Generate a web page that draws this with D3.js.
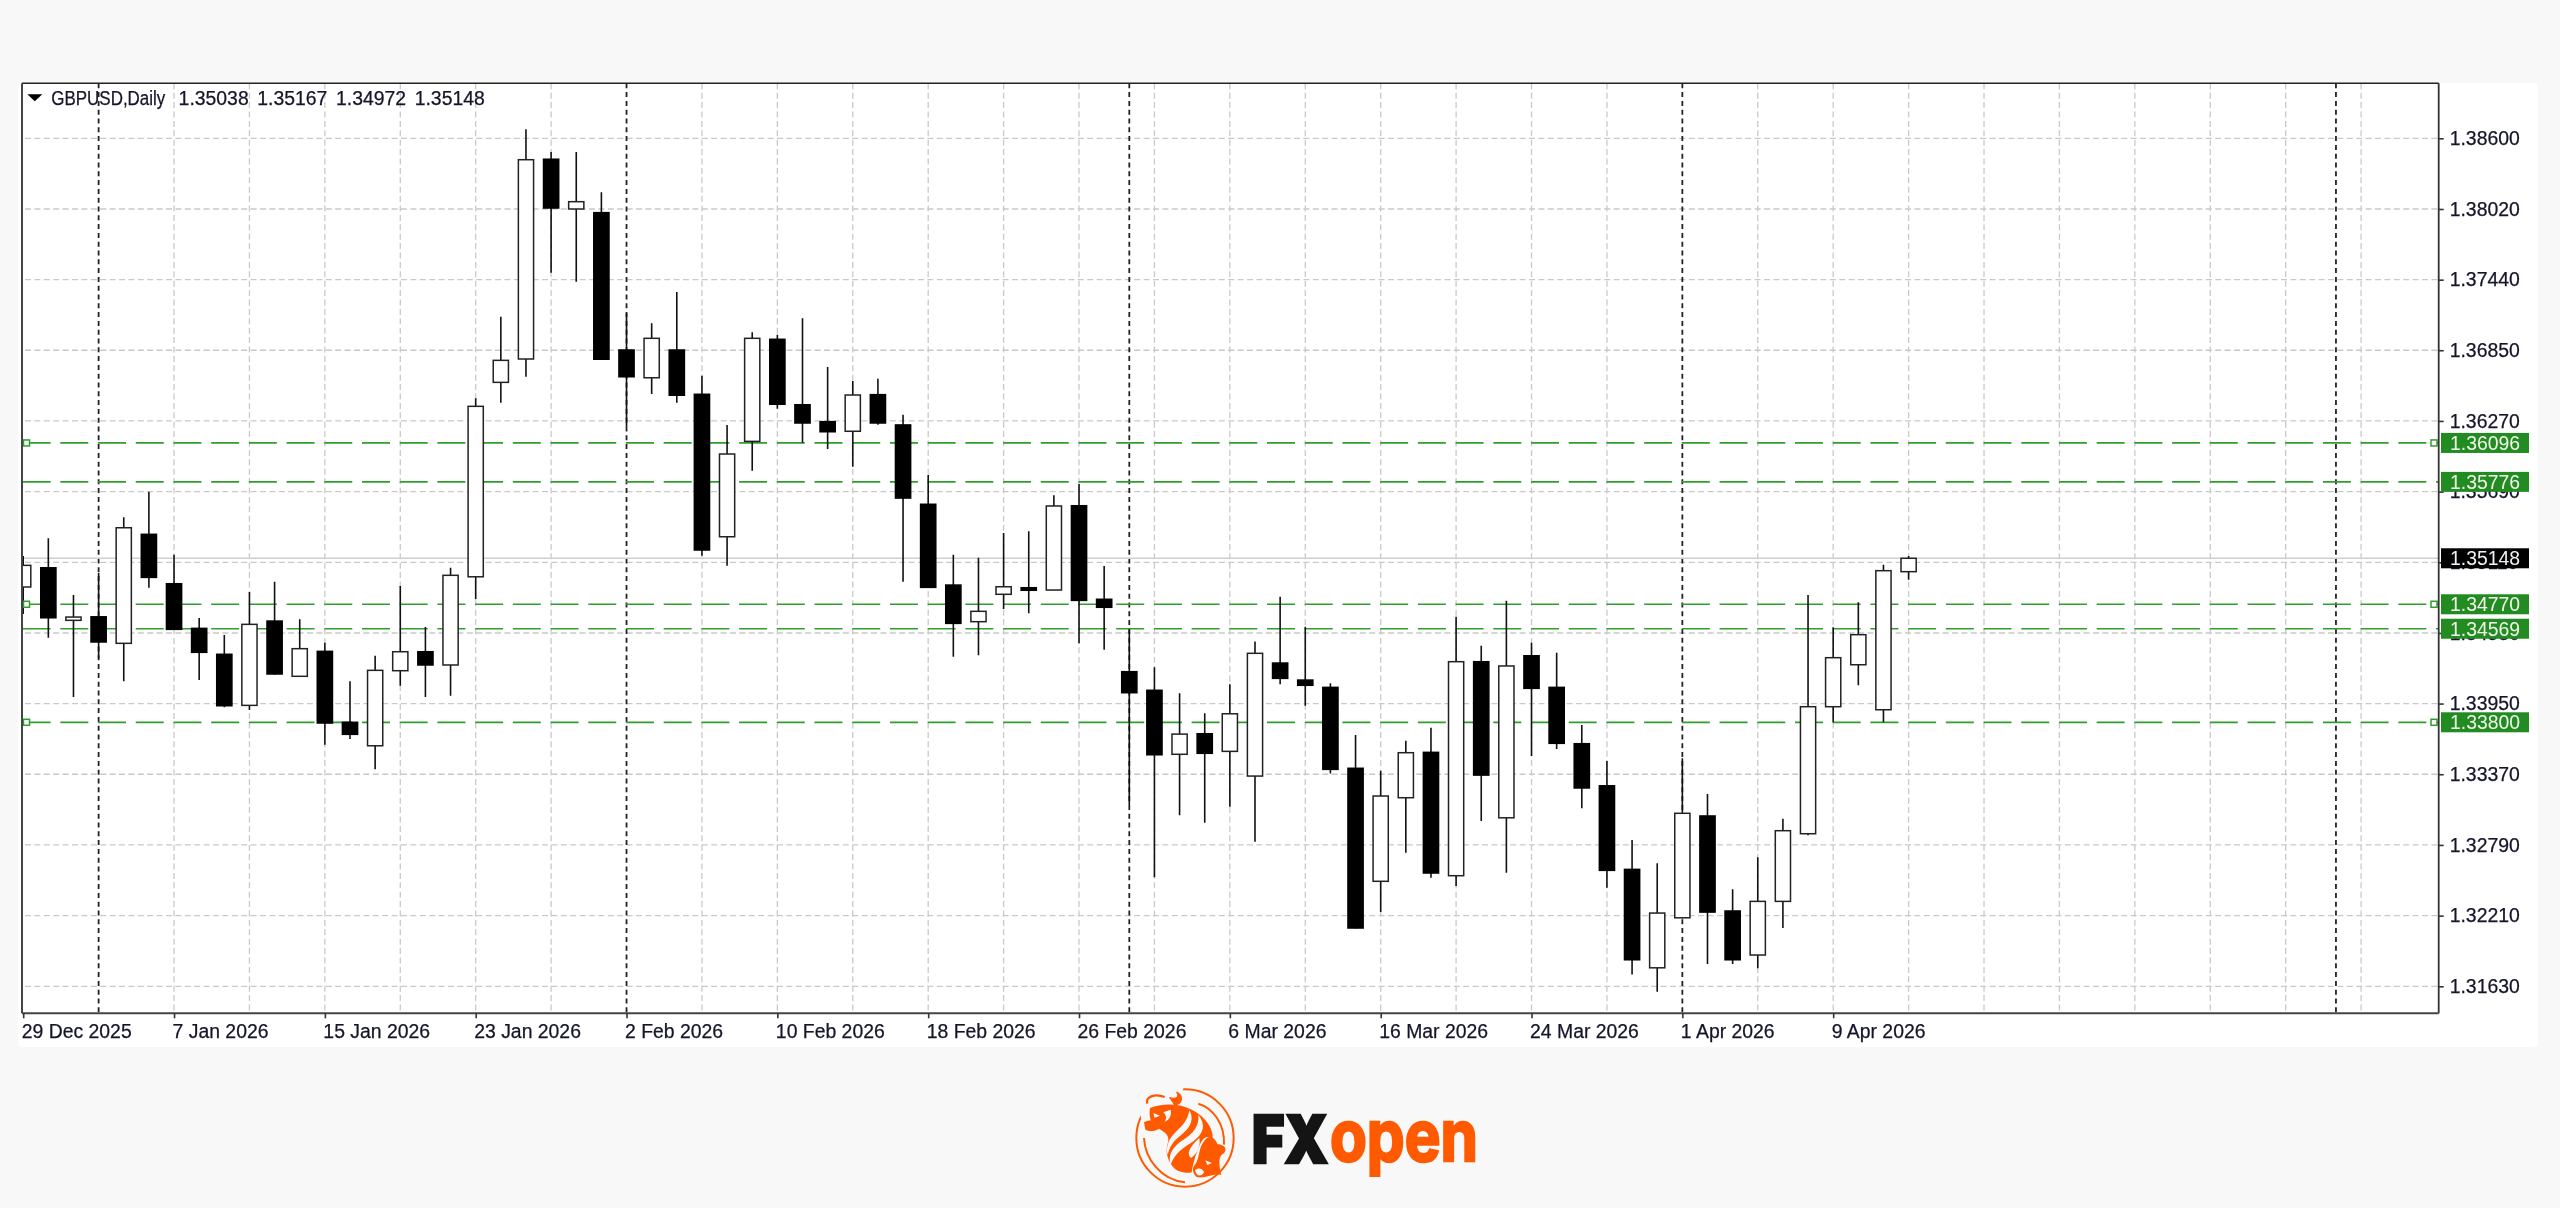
<!DOCTYPE html>
<html><head><meta charset="utf-8">
<script src="https://cdn.jsdelivr.net/npm/d3@7"></script>
<style>
html,body{margin:0;padding:0;background:#f8f8f8;}
svg{display:block;filter:blur(0.45px);}
text{font-family:"Liberation Sans",Arial,sans-serif;}
</style></head><body><div id="chart"></div>
<script>
const opens=[1.34912,1.35070,1.34638,1.34667,1.34449,1.35345,1.34939,1.34572,1.34359,1.33939,1.34632,1.34178,1.34383,1.33800,1.33607,1.34224,1.34380,1.34271,1.34996,1.36594,1.36786,1.38428,1.38019,1.37989,1.36860,1.36632,1.36860,1.36496,1.35325,1.36109,1.36948,1.36410,1.36271,1.36192,1.36493,1.36244,1.35592,1.34928,1.34627,1.34852,1.34906,1.34887,1.35580,1.34811,1.34216,1.34063,1.33537,1.33706,1.33561,1.33358,1.34287,1.34147,1.34087,1.33422,1.32493,1.33180,1.33553,1.32539,1.34298,1.33015,1.34347,1.34087,1.33624,1.33278,1.32591,1.31782,1.32193,1.33030,1.32249,1.31887,1.32328,1.32884,1.33928,1.34273,1.33903,1.35038];
const highs=[1.35166,1.35312,1.34846,1.35027,1.35485,1.35695,1.35177,1.34657,1.34517,1.34871,1.34955,1.34646,1.34454,1.34137,1.34347,1.34920,1.34583,1.35070,1.36463,1.37134,1.38674,1.38488,1.38488,1.38156,1.37162,1.37079,1.37337,1.36649,1.36244,1.37005,1.36986,1.37121,1.36720,1.36605,1.36624,1.36328,1.35832,1.35177,1.35153,1.35356,1.35370,1.35666,1.35758,1.35084,1.34564,1.34252,1.34038,1.33874,1.34112,1.34465,1.34832,1.34585,1.34120,1.33695,1.33402,1.33648,1.33755,1.34668,1.34429,1.34799,1.34454,1.34372,1.33777,1.33482,1.32832,1.32641,1.33504,1.33210,1.32427,1.32690,1.33007,1.34846,1.34581,1.34786,1.35095,1.35167];
const lows=[1.34690,1.34495,1.34008,1.34326,1.34137,1.34906,1.34560,1.34147,1.33923,1.33901,1.34190,1.34175,1.33616,1.33662,1.33413,1.34100,1.34008,1.34018,1.34811,1.36427,1.36640,1.37495,1.37421,1.36780,1.36229,1.36498,1.36427,1.35169,1.35087,1.35868,1.36377,1.36098,1.36046,1.35901,1.36246,1.34955,1.34905,1.34339,1.34350,1.34731,1.34696,1.34885,1.34449,1.34396,1.33120,1.32526,1.33035,1.32974,1.33106,1.32818,1.34112,1.33936,1.33380,1.32105,1.32240,1.32728,1.32522,1.32454,1.32988,1.32563,1.33523,1.33580,1.33093,1.32440,1.31728,1.31585,1.32190,1.31813,1.31813,1.31778,1.32109,1.32871,1.33800,1.34104,1.33800,1.34972];
const closes=[1.35090,1.34659,1.34665,1.34460,1.35399,1.34991,1.34564,1.34375,1.33936,1.34605,1.34197,1.34405,1.33794,1.33701,1.34227,1.34380,1.34271,1.35008,1.36397,1.36775,1.38424,1.38027,1.38079,1.36784,1.36640,1.36956,1.36488,1.35216,1.36005,1.36956,1.36414,1.36260,1.36188,1.36490,1.36260,1.35643,1.34909,1.34613,1.34712,1.34914,1.34885,1.35578,1.34802,1.34745,1.34043,1.33533,1.33703,1.33545,1.33870,1.34367,1.34161,1.34104,1.33413,1.32109,1.33194,1.33550,1.32561,1.34298,1.33366,1.34263,1.34079,1.33627,1.33260,1.32583,1.31848,1.32232,1.33052,1.32240,1.31848,1.32328,1.32909,1.33928,1.34331,1.34520,1.35046,1.35148];

const priceGrid=[1.38600,1.38019,1.37438,1.36858,1.36277,1.35696,1.35115,1.34534,1.33954,1.33373,1.32792,1.32211,1.31630];
const priceLabels=["1.38600","1.38020","1.37440","1.36850","1.36270","1.35690","1.35110","1.34530","1.33950","1.33370","1.32790","1.32210","1.31630"];
const dateTickIdx=[0,6,12,18,24,30,36,42,48,54,60,66,72];
const dateLabels=["29 Dec 2025","7 Jan 2026","15 Jan 2026","23 Jan 2026","2 Feb 2026","10 Feb 2026","18 Feb 2026","26 Feb 2026","6 Mar 2026","16 Mar 2026","24 Mar 2026","1 Apr 2026","9 Apr 2026"];
const gridIdx=d3.range(3,96,3);
const monthIdx=[3,24,44,66,92];
const levels=[1.36096,1.35776,1.34770,1.34569,1.33800];
const levelLabels=["1.36096","1.35776","1.34770","1.34569","1.33800"];
const levelAnchored=[true,false,true,false,true];
const lastPrice=1.35148;
const headerValues=["1.35038","1.35167","1.34972","1.35148"];
const symbolLabel="GBPUSD,Daily";

const W=2560,H=1208,L=22,R=2438.7,T=83.3,B=1013.3;
const TXT="#15152a";
const x=d3.scaleLinear().domain([0,75]).range([23.2,1908.6]);
const y=d3.scaleLinear().domain([1.3163,1.386]).range([986.3,138.3]);
const svg=d3.select("#chart").append("svg").attr("width",W).attr("height",H);
svg.append("rect").attr("width",W).attr("height",H).attr("fill","#f8f8f8");
svg.append("rect").attr("x",18).attr("y",83).attr("width",2520).attr("height",964).attr("rx",4).attr("fill","#fff");
svg.append("clipPath").attr("id","plot").append("rect").attr("x",L).attr("y",T).attr("width",R-L).attr("height",B-T);
const plot=svg.append("g").attr("clip-path","url(#plot)");

// grid
plot.append("g").selectAll("line").data(priceGrid).join("line")
 .attr("x1",L+3).attr("x2",R).attr("y1",d=>y(d)).attr("y2",d=>y(d))
 .attr("stroke","#c9c9c9").attr("stroke-width",1.3).attr("stroke-dasharray","6 3.4");
plot.append("g").selectAll("line").data(gridIdx.filter(i=>!monthIdx.includes(i))).join("line")
 .attr("x1",d=>x(d)).attr("x2",d=>x(d)).attr("y1",T).attr("y2",B)
 .attr("stroke","#c9c9c9").attr("stroke-width",1.3).attr("stroke-dasharray","6 3.4");
plot.append("g").selectAll("line").data(monthIdx).join("line")
 .attr("x1",d=>x(d)).attr("x2",d=>x(d)).attr("y1",T).attr("y2",B)
 .attr("stroke","#222").attr("stroke-width",1.8).attr("stroke-dasharray","5 3.8");
// current price line
plot.append("line").attr("x1",L).attr("x2",R).attr("y1",y(lastPrice)).attr("y2",y(lastPrice))
 .attr("stroke","#cfcfcf").attr("stroke-width",1.6);
// levels
plot.append("g").selectAll("line").data(levels).join("line")
 .attr("x1",22.6).attr("x2",R).attr("y1",d=>y(d)).attr("y2",d=>y(d))
 .attr("stroke","#2f9e2f").attr("stroke-width",1.7).attr("stroke-dasharray","28 9.71");
// candles
const idx=d3.range(opens.length);
const c=plot.append("g");
c.selectAll("line").data(idx).join("line")
 .attr("x1",i=>x(i)).attr("x2",i=>x(i)).attr("y1",i=>y(highs[i])).attr("y2",i=>y(lows[i]))
 .attr("stroke","#111").attr("stroke-width",1.6);
c.selectAll("rect").data(idx).join("rect")
 .attr("x",i=>x(i)-7.6).attr("width",15.2)
 .attr("y",i=>y(Math.max(opens[i],closes[i])))
 .attr("height",i=>Math.max(1,Math.abs(y(opens[i])-y(closes[i]))))
 .attr("fill",i=>closes[i]>=opens[i]?"#fff":"#000")
 .attr("stroke",i=>closes[i]>=opens[i]?"#222":"#000").attr("stroke-width",1.5);
// anchors
const anchored=levels.filter((d,i)=>levelAnchored[i]);
[26.5,2434].forEach(ax=>{
 plot.append("g").selectAll("rect").data(anchored).join("rect")
  .attr("x",ax-3).attr("y",d=>y(d)-3).attr("width",6).attr("height",6)
  .attr("fill","#fff").attr("stroke","#2f9e2f").attr("stroke-width",1.5);
});
// frame
svg.append("line").attr("x1",L).attr("x2",R).attr("y1",T).attr("y2",T).attr("stroke","#222").attr("stroke-width",1.4);
svg.append("line").attr("x1",L).attr("x2",L).attr("y1",T).attr("y2",B).attr("stroke","#444").attr("stroke-width",2);
// axes
const axR=d3.axisRight(y).tickValues(priceGrid).tickSize(5).tickPadding(6)
 .tickFormat((d,i)=>priceLabels[i]);
const gR=svg.append("g").attr("transform",`translate(${R},0)`).call(axR);
gR.select(".domain").attr("d",`M0,${T}V${B}`).attr("stroke","#333").attr("stroke-width",1.8);
gR.selectAll(".tick line").attr("stroke","#333").attr("stroke-width",1.6);
gR.selectAll("text").attr("font-size",19.4).attr("fill",TXT).attr("stroke",TXT).attr("stroke-width",0.25).style("font-family",'"Liberation Sans"');
const axB=d3.axisBottom(x).tickValues(dateTickIdx).tickSize(5).tickPadding(6)
 .tickFormat((d,i)=>dateLabels[i]);
const gB=svg.append("g").attr("transform",`translate(0,${B})`).call(axB);
gB.select(".domain").attr("d",`M${L},0H${R}`).attr("stroke","#444").attr("stroke-width",2);
gB.selectAll(".tick line").attr("stroke","#333").attr("stroke-width",1.6);
gB.selectAll("text").attr("text-anchor","start").attr("x",-2).attr("dy","0.35em").attr("y",17.5)
 .attr("font-size",19.4).attr("fill",TXT).attr("stroke",TXT).attr("stroke-width",0.25).style("font-family",'"Liberation Sans"');
// level labels
const lab=svg.append("g");
function priceBox(v,t,col,txt){
 lab.append("rect").attr("x",2441).attr("y",y(v)-10).attr("width",88).attr("height",20).attr("fill",col);
 lab.append("text").attr("x",2450).attr("y",y(v)).attr("dy","0.35em").attr("font-size",19.4).attr("fill",txt).text(t);
}
levels.forEach((d,i)=>priceBox(d,levelLabels[i],"#228b22","#f2f6ea"));
priceBox(lastPrice,"1.35148","#000","#eef2f6");
// header
svg.append("path").attr("d","M27.3,94.3H42.3L34.8,101.3Z").attr("fill","#000");
svg.append("text").attr("x",51.3).attr("y",98).attr("dy","0.35em").attr("font-size",19.4)
 .attr("textLength",114).attr("lengthAdjust","spacingAndGlyphs").attr("fill",TXT).attr("stroke",TXT).attr("stroke-width",0.25).text(symbolLabel);
svg.append("g").selectAll("text").data(headerValues).join("text")
 .attr("x",(d,i)=>178.6+i*78.7).attr("y",98).attr("dy","0.35em").attr("font-size",19.4).attr("fill",TXT).attr("stroke",TXT).attr("stroke-width",0.25).text(d=>d);
// logo
const OR="#ff5a00",BG="#f8f8f8";
const lg=svg.append("g").attr("transform","translate(1130,1083) scale(0.3333)");
lg.append("circle").attr("cx",165).attr("cy",165).attr("r",146).attr("fill","none").attr("stroke",OR).attr("stroke-width",6);
lg.append("path").attr("d","M205 62 C250 75 285 125 282 185").attr("fill","none").attr("stroke",OR).attr("stroke-width",6);
lg.append("path").attr("d","M42 165 C45 225 90 290 165 298").attr("fill","none").attr("stroke",OR).attr("stroke-width",6);
lg.append("path").attr("d","M30 85 L60 15 L160 15 L150 80 L40 150 Z").attr("fill",BG);
lg.append("path").attr("d","M60 75 C95 60 150 60 185 80 C225 100 252 135 248 172 C235 155 222 160 212 180 C200 205 190 235 185 268 C168 272 150 268 135 258 C112 235 104 205 115 175 C118 150 95 145 85 135 C65 130 55 105 60 75 Z").attr("fill",OR);
lg.append("path").attr("d","M42 118 C60 106 85 112 97 125 C85 147 60 147 46 140 Z").attr("fill",OR);
lg.append("path").attr("d","M52 62 C44 42 75 30 104 42").attr("fill","none").attr("stroke",OR).attr("stroke-width",7);
lg.append("path").attr("d","M118 44 C140 50 150 42 140 27 C160 38 160 62 132 66").attr("fill",OR).attr("stroke",OR).attr("stroke-width",4);
lg.append("path").attr("d","M178 82 C192 105 185 130 158 152 C138 168 122 180 113 215 C106 190 118 165 138 146 C158 128 174 110 178 82 Z").attr("fill",BG);
lg.append("path").attr("d","M205 95 C228 125 222 150 190 175 C160 195 135 210 122 245 C112 215 130 190 158 172 C190 150 208 130 205 95 Z").attr("fill",BG);
lg.append("path").attr("d","M208 165 C212 185 205 210 183 225 C170 215 175 195 208 165 Z").attr("fill",BG);
lg.append("path").attr("d","M100 88 L122 80 C126 96 118 112 104 116 C112 106 108 96 100 88 Z").attr("fill",BG);
lg.append("path").attr("d","M70 90 L90 98 L74 104 Z").attr("fill",BG);
lg.append("path").attr("d","M222 175 C235 152 255 162 262 183 C285 185 294 200 280 212 C265 218 266 245 274 276 C250 270 225 288 200 282 C188 270 185 255 195 245 C210 225 205 195 222 175 Z").attr("fill",OR);
lg.append("path").attr("d","M195 262 C205 252 218 256 222 268 C214 282 200 282 195 262 Z").attr("fill",BG);
lg.append("path").attr("d","M226 232 L246 240 L232 246 Z").attr("fill",BG);
svg.append("text").attr("x",1252).attr("y",1163).attr("font-size",66).attr("textLength",76).attr("lengthAdjust","spacingAndGlyphs")
 .style("font-family","Inter").style("font-weight",900).attr("fill","#141414").attr("stroke","#141414").attr("stroke-width",2.5).text("FX");
svg.append("text").attr("x",1330).attr("y",1161).attr("font-size",71).attr("textLength",148).attr("lengthAdjust","spacingAndGlyphs")
 .style("font-family","Inter").style("font-weight",700).attr("fill",OR).attr("stroke",OR).attr("stroke-width",2.5).text("open");
</script></body></html>
